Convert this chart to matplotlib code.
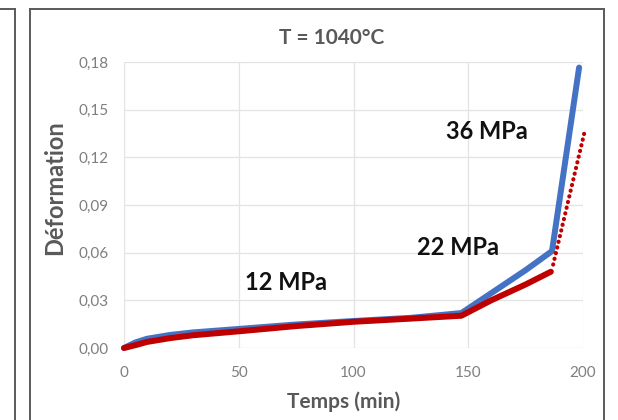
import matplotlib
matplotlib.use("Agg")
import matplotlib.pyplot as plt
from matplotlib.lines import Line2D
from matplotlib.ticker import FuncFormatter

plt.rcParams['font.family'] = ['Lato', 'DejaVu Sans']

# data (time in min, strain)
t_blue = [0, 5, 10, 20, 30, 50, 75, 100, 125, 147, 160, 175, 186.5, 198.3]
eps_blue = [0, 0.0035, 0.0058, 0.0082, 0.0098, 0.0120, 0.0148, 0.0170, 0.0190, 0.0220, 0.0345, 0.0490, 0.0610, 0.1765]
t_red = [0, 5, 10, 20, 30, 50, 75, 100, 125, 147, 160, 175, 186]
eps_red = [0, 0.0018, 0.0038, 0.0062, 0.0080, 0.0105, 0.0138, 0.0165, 0.0185, 0.0203, 0.0300, 0.0400, 0.0480]
t_red_dot = [187, 200.6]
eps_red_dot = [0.0525, 0.1355]

labels = ["12 MPa", "22 MPa", "36 MPa"]
label_x = [70.5, 145.5, 158]
label_y = [0.041, 0.063, 0.1365]

xticks = [0, 50, 100, 150, 200]
yticks = [0, 0.03, 0.06, 0.09, 0.12, 0.15, 0.18]

W, H = 618, 420
fig = plt.figure(figsize=(W / 100, H / 100), dpi=100)


def fx(px):
    return px / W


def fy(py):
    return 1 - py / H


# panel frames
frame = '#5a5a5a'
for xs, ys in [([30, 30], [9, 420]), ([30, 604], [9, 9]), ([604, 604], [9, 420]),
               ([15, 15], [9, 420]), ([0, 15], [9, 9])]:
    fig.add_artist(Line2D([fx(x) for x in xs], [fy(y) for y in ys], color=frame, lw=1.4))

ax = fig.add_axes([fx(124), fy(348), fx(583) - fx(124), fy(62) - fy(348)])
ax.plot(t_blue, eps_blue, color='#4472C4', lw=4.3, solid_capstyle='round', clip_on=False, zorder=3)
ax.plot(t_red, eps_red, color='#C00000', lw=4.3, solid_capstyle='round', clip_on=False, zorder=4)
ax.plot(t_red_dot, eps_red_dot, color='#C00000', lw=3.0, linestyle=(0, (0.05, 1.35)),
        dash_capstyle='round', clip_on=False, zorder=4)

for s, x, y in zip(labels, label_x, label_y):
    ax.text(x, y, s, ha='center', va='center', fontsize=17, fontweight='bold', color='#111111')

ax.set_xlim(0, 200)
ax.set_ylim(0, 0.18)
ax.set_xticks(xticks)
ax.set_yticks(yticks)
ax.yaxis.set_major_formatter(FuncFormatter(lambda v, p: f"{v:.2f}".replace('.', ',')))
ax.tick_params(length=0, labelsize=11, labelcolor='#7f7f7f')
ax.tick_params(axis='y', pad=11)
ax.tick_params(axis='x', pad=13)
ax.grid(True, color='#e3e3e3', lw=0.9)
ax.set_axisbelow(True)
for sp in ax.spines.values():
    sp.set_visible(False)

fig.text(fx(332), fy(38), "T = 1040°C", ha='center', va='center', fontsize=15,
         fontweight='bold', color='#595959')
fig.text(fx(344), fy(402), "Temps (min)", ha='center', va='center', fontsize=15,
         fontweight='bold', color='#595959')
fig.text(fx(55), fy(188), "Déformation", ha='center', va='center', rotation=90,
         fontsize=17, fontweight='bold', color='#595959')

fig.savefig("out.png", dpi=100, facecolor='white')
